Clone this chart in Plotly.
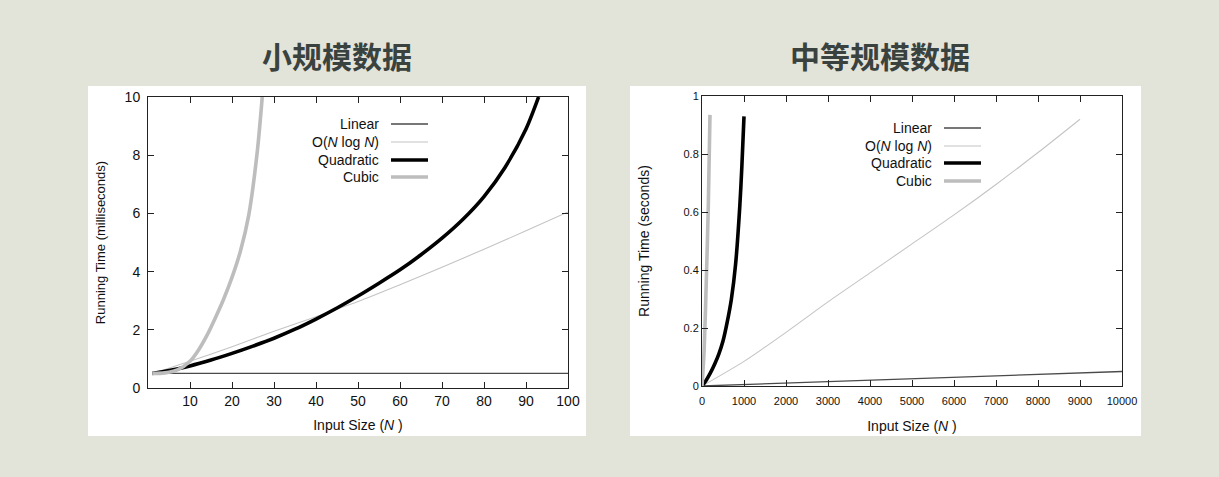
import plotly.graph_objects as go

W, H = 1219, 477

# ---------------- data ----------------
titles = ["小规模数据", "中等规模数据"]
series_names = ["Linear", "O(<i>N</i> log <i>N</i>)", "Quadratic", "Cubic"]

# small input (milliseconds)
s_lin_x = [1, 100]
s_lin_y = [0.5, 0.5]
s_nlog_x = [1, 10, 20, 30, 40, 50, 60, 70, 80, 90, 100]
s_nlog_y = [0.5, 0.92, 1.42, 1.95, 2.45, 2.97, 3.55, 4.15, 4.77, 5.4, 6.05]
s_quad_x = [1, 5, 10, 15, 20, 25, 30, 35, 40, 45, 50, 55, 60, 65, 70, 75, 80, 85, 90, 93]
s_quad_y = [0.5, 0.6, 0.76, 0.96, 1.19, 1.44, 1.71, 2.02, 2.37, 2.75, 3.16, 3.6, 4.06,
            4.58, 5.15, 5.8, 6.58, 7.58, 8.9, 10.0]
s_cub_x = [1, 4, 7, 10, 12, 14, 16, 18, 20, 22, 24, 26, 27.2]
s_cub_y = [0.5, 0.52, 0.62, 0.92, 1.3, 1.8, 2.4, 3.05, 3.8, 4.7, 5.95, 8.1, 10.0]

# medium input (seconds)
m_lin_x = [0, 10000]
m_lin_y = [0, 0.05]
m_nlog_x = [0, 1000, 2000, 3000, 4000, 5000, 6000, 7000, 8000, 9000]
m_nlog_y = [0, 0.085, 0.185, 0.29, 0.39, 0.49, 0.59, 0.695, 0.805, 0.92]
m_quad_x = [0, 100, 200, 300, 400, 500, 600, 700, 800, 900, 950, 1000]
m_quad_y = [0, 0.02, 0.045, 0.075, 0.11, 0.155, 0.22, 0.3, 0.42, 0.62, 0.76, 0.93]
m_cub_x = [0, 50, 100, 150, 190]
m_cub_y = [0, 0.12, 0.35, 0.62, 0.935]

s_xticks = [10, 20, 30, 40, 50, 60, 70, 80, 90, 100]
s_yticks = [0, 2, 4, 6, 8, 10]
m_xticks = [0, 1000, 2000, 3000, 4000, 5000, 6000, 7000, 8000, 9000, 10000]
m_xticklabels = ["0", "1000", "2000", "3000", "4000", "5000", "6000", "7000", "8000", "9000", "10000"]
m_yticks = [0, 0.2, 0.4, 0.6, 0.8, 1]
m_yticklabels = ["0", "0.2", "0.4", "0.6", "0.8", "1"]

# ---------------- styles ----------------
BG = "#e3e4d9"
FONT = "Liberation Sans, Arial, sans-serif"
styles = [
    dict(color="#4a4a4a", width=1.3),
    dict(color="#c4c4c4", width=1.1),
    dict(color="#000000", width=3.6),
    dict(color="#bdbdbd", width=3.6),
]


def px(x):
    return x / W


def py(y):
    return 1 - y / H


fig = go.Figure()

small = [(s_lin_x, s_lin_y), (s_nlog_x, s_nlog_y), (s_quad_x, s_quad_y), (s_cub_x, s_cub_y)]
medium = [(m_lin_x, m_lin_y), (m_nlog_x, m_nlog_y), (m_quad_x, m_quad_y), (m_cub_x, m_cub_y)]
for (xs, ys), name, st in zip(small, series_names, styles):
    fig.add_trace(go.Scatter(x=xs, y=ys, mode="lines", name=name,
                             line=dict(shape="spline", smoothing=0.8, **st),
                             xaxis="x", yaxis="y", showlegend=False))
for (xs, ys), name, st in zip(medium, series_names, styles):
    fig.add_trace(go.Scatter(x=xs, y=ys, mode="lines", name=name,
                             line=dict(shape="spline", smoothing=0.8, **st),
                             xaxis="x2", yaxis="y2", showlegend=False))

axis_common = dict(showline=True, linecolor="#222", linewidth=1, mirror="allticks",
                   ticks="inside", ticklen=6, tickcolor="#222", showgrid=False,
                   zeroline=False, automargin=False)

fig.update_layout(
    width=W, height=H,
    margin=dict(l=0, r=0, t=0, b=0),
    paper_bgcolor=BG, plot_bgcolor="white",
    font=dict(family=FONT, color="#111"),
    xaxis=dict(domain=[px(148), px(568)], range=[0, 100], tickvals=s_xticks,
               tickfont=dict(family=FONT, size=14, color="#111"),
               title=dict(text="Input Size (<i>N</i> )", font=dict(size=14), standoff=12),
               anchor="y", **axis_common),
    yaxis=dict(domain=[py(388), py(97)], range=[0, 10], tickvals=s_yticks,
               tickfont=dict(family=FONT, size=14, color="#111"), ticklabelstandoff=4,
               title=dict(text="Running Time (milliseconds)", font=dict(size=13), standoff=16),
               anchor="x", **axis_common),
    xaxis2=dict(domain=[px(702), px(1122)], range=[0, 10000], tickvals=m_xticks, ticktext=m_xticklabels,
                tickfont=dict(family=FONT, size=11, color="#111"), ticklabelstandoff=5,
                title=dict(text="Input Size (<i>N</i> )", font=dict(size=14), standoff=14),
                anchor="y2", **axis_common),
    yaxis2=dict(domain=[py(386), py(96)], range=[0, 1], tickvals=m_yticks, ticktext=m_yticklabels,
                tickfont=dict(family=FONT, size=11, color="#111"),
                title=dict(text="Running Time (seconds)", font=dict(size=14), standoff=30),
                anchor="x2", **axis_common),
)

# white panels behind the plots
for x0, x1 in [(88, 586), (630, 1141)]:
    fig.add_shape(type="rect", xref="paper", yref="paper", x0=px(x0), x1=px(x1),
                  y0=py(436), y1=py(86), fillcolor="white", line=dict(width=0), layer="below")

# titles
for t, cx in zip(titles, [337, 880]):
    fig.add_annotation(text=f"<b>{t}</b>", xref="paper", yref="paper", x=px(cx), y=py(55),
                       showarrow=False, xanchor="center", yanchor="middle",
                       font=dict(family="Noto Sans CJK SC", size=30, color="#3a4240"))

# custom legends (label to the left of sample line)
legend_specs = [
    (381, 391, 428, [124, 142, 160, 177]),
    (934, 944, 981, [128, 146, 163, 181]),
]
for tx, lx0, lx1, rows in legend_specs:
    for name, st, ry in zip(series_names, styles, rows):
        fig.add_annotation(text=name, xref="paper", yref="paper", x=px(tx), y=py(ry),
                           showarrow=False, xanchor="right", yanchor="middle",
                           font=dict(family=FONT, size=14, color="#111"))
        fig.add_shape(type="line", xref="paper", yref="paper", x0=px(lx0), x1=px(lx1),
                      y0=py(ry), y1=py(ry), line=st)

fig.write_html("out.html",
               post_script="document.body.style.margin='0';document.body.style.background='" + BG + "';")
